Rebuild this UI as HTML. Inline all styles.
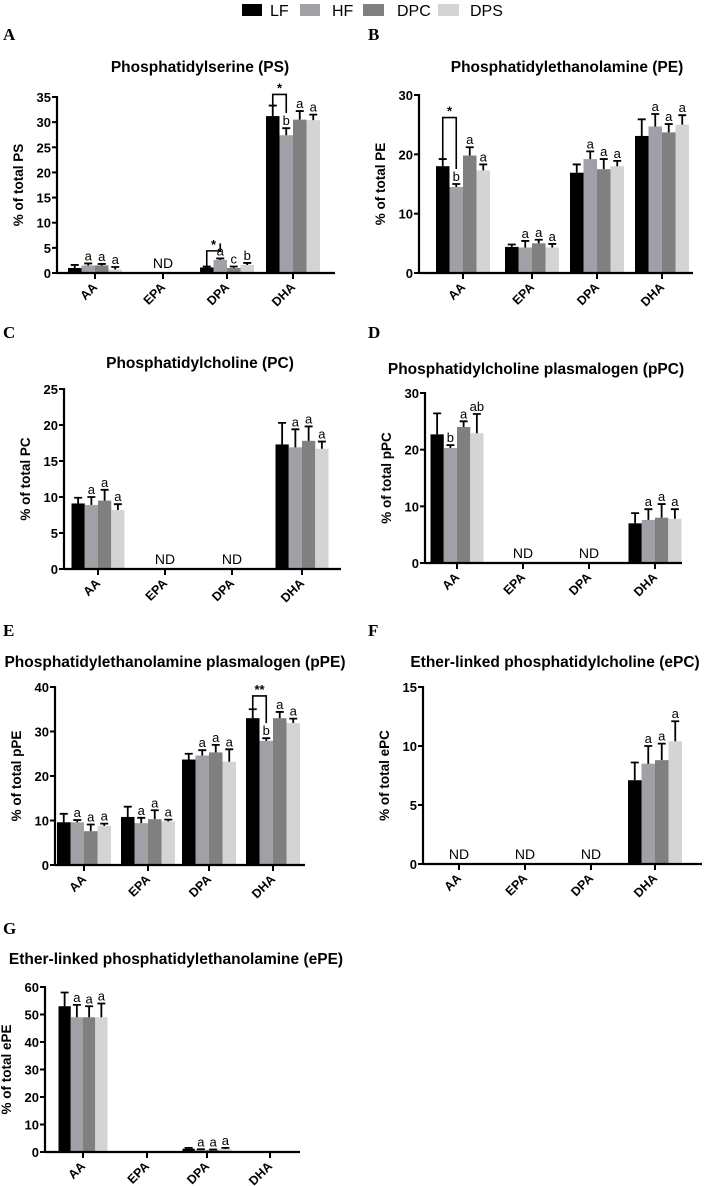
<!DOCTYPE html>
<html><head><meta charset="utf-8">
<style>
html,body{margin:0;padding:0;background:#fff;}
svg{display:block;font-family:"Liberation Sans",Arial,sans-serif;}
</style></head>
<body>
<svg id="fig" width="709" height="1186" viewBox="0 0 709 1186" xmlns="http://www.w3.org/2000/svg">
 <g font-size="16">
  <rect x="242" y="4" width="20" height="12" fill="#000"/>
  <text x="270" y="16">LF</text>
  <rect x="300" y="4" width="20" height="12" fill="#a0a0a6"/>
  <text x="332" y="16">HF</text>
  <rect x="363" y="4" width="21" height="12" fill="#808080"/>
  <text x="397" y="16">DPC</text>
  <rect x="438" y="4" width="21" height="12" fill="#d4d4d4"/>
  <text x="470" y="16">DPS</text>
 </g>
</svg>
<script>
// ---- data ----
const categories = ["AA","EPA","DPA","DHA"];
const seriesNames = ["LF","HF","DPC","DPS"];
const seriesColors = ["#000000","#a0a0a6","#808080","#d4d4d4"];

// Panel A (PS)
const psMeans = [[1.0,null,1.1,31.2],[1.5,null,2.6,27.4],[1.5,null,1.0,30.5],[0.7,null,1.6,30.4]];
const psErr   = [[1.6,null,1.3,33.3],[1.9,null,2.9,28.8],[1.8,null,1.3,32.2],[1.2,null,2.0,31.5]];
const psLetters = [["","","",""],["a","","a","b"],["a","","c","a"],["a","","b","a"]];
const psTicks = [0,5,10,15,20,25,30,35];
const psND = [false,true,false,false];
// Panel B (PE)
const peMeans = [[18.0,4.4,16.9,23.1],[14.5,4.3,19.2,24.7],[19.8,5.0,17.5,23.7],[17.3,4.3,18.0,25.0]];
const peErr   = [[19.2,4.8,18.3,25.9],[15.0,5.4,20.5,26.8],[21.2,5.6,19.2,25.1],[18.3,4.9,18.9,26.6]];
const peLetters = [["","","",""],["b","a","a","a"],["a","a","a","a"],["a","a","a","a"]];
const peTicks = [0,10,20,30];
const peND = [false,false,false,false];
// Panel C (PC)
const pcMeans = [[9.1,null,null,17.3],[8.9,null,null,16.9],[9.5,null,null,17.8],[8.2,null,null,16.7]];
const pcErr   = [[9.9,null,null,20.3],[10.0,null,null,19.4],[11.0,null,null,19.8],[9.0,null,null,17.7]];
const pcLetters = [["","","",""],["a","","","a"],["a","","","a"],["a","","","a"]];
const pcTicks = [0,5,10,15,20,25];
const pcND = [false,true,true,false];
// Panel D (pPC)
const ppcMeans = [[22.7,null,null,7.0],[20.3,null,null,7.6],[24.0,null,null,8.0],[22.9,null,null,7.8]];
const ppcErr   = [[26.4,null,null,8.8],[20.8,null,null,9.5],[25.0,null,null,10.4],[26.3,null,null,9.5]];
const ppcLetters = [["","","",""],["b","","","a"],["a","","","a"],["ab","","","a"]];
const ppcTicks = [0,10,20,30];
const ppcND = [false,true,true,false];
// Panel E (pPE)
const ppeMeans = [[9.6,10.8,23.7,33.0],[9.6,9.4,24.6,27.9],[7.6,10.3,25.3,33.0],[8.8,9.8,23.2,31.9]];
const ppeErr   = [[11.5,13.1,25.0,35.0],[10.1,10.6,25.8,28.5],[9.1,12.3,27.0,34.4],[9.3,10.2,26.0,32.9]];
const ppeLetters = [["","","",""],["a","a","a","b"],["a","a","a","a"],["a","a","a","a"]];
const ppeTicks = [0,10,20,30,40];
const ppeND = [false,false,false,false];
// Panel F (ePC)
const epcMeans = [[null,null,null,7.1],[null,null,null,8.5],[null,null,null,8.8],[null,null,null,10.4]];
const epcErr   = [[null,null,null,8.6],[null,null,null,10.0],[null,null,null,10.2],[null,null,null,12.1]];
const epcLetters = [["","","",""],["","","","a"],["","","","a"],["","","","a"]];
const epcTicks = [0,5,10,15];
const epcND = [true,true,true,false];
// Panel G (ePE)
const epeMeans = [[53,null,1.2,null],[49,null,0.8,null],[49,null,0.7,null],[49,null,1.1,null]];
const epeErr   = [[58,null,1.5,null],[53.5,null,1.0,null],[53,null,0.9,null],[54,null,1.5,null]];
const epeLetters = [["","","",""],["a","","a",""],["a","","a",""],["a","","a",""]];
const epeTicks = [0,10,20,30,40,50,60];
const epeND = [false,false,false,false];

const panels = [
 {id:"ps",letter:"A",lx:3,ly:40,title:"Phosphatidylserine (PS)",tx:200,ty:72,yl:"% of total PS",ax:57,x1:335,yTop:97,y0:273,cats:[95,163,227,293],gw:54,means:psMeans,err:psErr,letters:psLetters,ticks:psTicks,nd:psND,
  brackets:[{c:2,level:4.4,label:"*"},{c:3,level:35.5,label:"*"}]},
 {id:"pe",letter:"B",lx:368,ly:40,title:"Phosphatidylethanolamine (PE)",tx:567,ty:72,yl:"% of total PE",ax:419,x1:693,yTop:95,y0:273,cats:[463,532,597,662],gw:54,means:peMeans,err:peErr,letters:peLetters,ticks:peTicks,nd:peND,
  brackets:[{c:0,level:26.2,label:"*"}]},
 {id:"pc",letter:"C",lx:3,ly:338,title:"Phosphatidylcholine (PC)",tx:200,ty:368,yl:"% of total PC",ax:64,x1:341,yTop:389,y0:569,cats:[98,165,232,302],gw:53,means:pcMeans,err:pcErr,letters:pcLetters,ticks:pcTicks,nd:pcND,brackets:[]},
 {id:"ppc",letter:"D",lx:368,ly:338,title:"Phosphatidylcholine plasmalogen (pPC)",tx:536,ty:374,yl:"% of total pPC",ax:425,x1:682,yTop:393,y0:563,cats:[457,523,589,655],gw:53,means:ppcMeans,err:ppcErr,letters:ppcLetters,ticks:ppcTicks,nd:ppcND,brackets:[]},
 {id:"ppe",letter:"E",lx:3,ly:636,title:"Phosphatidylethanolamine plasmalogen (pPE)",tx:175,ty:667,yl:"% of total pPE",ax:55,x1:305,yTop:687,y0:865,cats:[84,148,209,273],gw:54,means:ppeMeans,err:ppeErr,letters:ppeLetters,ticks:ppeTicks,nd:ppeND,
  brackets:[{c:3,level:38,label:"**"}]},
 {id:"epc",letter:"F",lx:368,ly:636,title:"Ether-linked phosphatidylcholine (ePC)",tx:555,ty:667,yl:"% of total ePC",ax:423,x1:702,yTop:687,y0:864,cats:[459,525,591,655],gw:54,means:epcMeans,err:epcErr,letters:epcLetters,ticks:epcTicks,nd:epcND,brackets:[]},
 {id:"epe",letter:"G",lx:3,ly:934,title:"Ether-linked phosphatidylethanolamine (ePE)",tx:176,ty:964,yl:"% of total ePE",ax:45,x1:300,yTop:987,y0:1152,cats:[83,147,207,270],gw:49,means:epeMeans,err:epeErr,letters:epeLetters,ticks:epeTicks,nd:epeND,brackets:[]}
];

const NS="http://www.w3.org/2000/svg";
const svg=document.getElementById("fig");
function mk(tag,attrs,parent){const e=document.createElementNS(NS,tag);for(const k in attrs)e.setAttribute(k,attrs[k]);parent.appendChild(e);return e;}

panels.forEach(p=>{
 const g=mk("g",{},svg);
 
 
 const ymax=p.ticks[p.ticks.length-1];
 const yScale=v=>p.y0-(v/ymax)*(p.y0-p.yTop);
 const bw=p.gw/4;
 const xBar=(c,s)=>p.cats[c]-p.gw/2+s*bw;

 const L=mk("text",{x:p.lx,y:p.ly,"font-family":"Liberation Serif,serif","font-weight":"bold","font-size":"17"},g);L.textContent=p.letter;
 
 
 const T=mk("text",{x:p.tx,y:p.ty,"text-anchor":"middle","font-weight":"bold","font-size":"15.5"},g);T.textContent=p.title;
 
 
 const ym=(p.yTop+p.y0)/2;
 const YL=mk("text",{x:0,y:0,transform:`translate(${p.ax-34},${ym}) rotate(-90)`,"text-anchor":"middle","font-weight":"bold","font-size":"13.5"},g);YL.textContent=p.yl;
 
 

 for(let s=0;s<4;s++){
  for(let c=0;c<4;c++){
   const v=p.means[s][c]; if(v==null) continue;
   const x=xBar(c,s), y=yScale(v);
   const r=mk("rect",{x:x,y:y,width:bw,height:p.y0-y,fill:seriesColors[s]},g);
   
   
   const e=p.err[s][c];
   if(e!=null){
    const cx=x+bw/2, ey=yScale(e);
    const eb=mk("path",{d:`M${cx} ${y}V${ey}M${cx-4} ${ey}H${cx+4}`,stroke:"#000","stroke-width":"1.8",fill:"none"},g);
    
    
    const lt=p.letters[s][c];
    if(lt){
     const t=mk("text",{x:cx,y:ey-3,"text-anchor":"middle","font-size":"13"},g);t.textContent=lt;
     
     
    }
   }
  }
 }
 p.brackets.forEach(b=>{
  const xa=xBar(b.c,0)+bw/2, xb=xBar(b.c,1)+bw/2;
  const ya=yScale(p.err[0][b.c]), yb=yScale(p.err[1][b.c]), yl=yScale(b.level);
  const br=mk("path",{d:`M${xa} ${ya}V${yl}H${xb}V${yb-15}`,stroke:"#000","stroke-width":"1.6",fill:"none"},g);
  
  
  const st=mk("text",{x:(xa+xb)/2,y:yl-2,"text-anchor":"middle","font-weight":"bold","font-size":"13"},g);st.textContent=b.label;
  
  
 });
 p.nd.forEach((n,c)=>{ if(!n) return;
  const t=mk("text",{x:p.cats[c],y:p.y0-5,"text-anchor":"middle","font-size":"14"},g);t.textContent="ND";
  
  
 });
 const ya=mk("path",{d:`M${p.ax} ${p.yTop-1}V${p.y0+1}`,stroke:"#000","stroke-width":"2.2",fill:"none"},g);
 
 
 const xa=mk("path",{d:`M${p.ax} ${p.y0}H${p.x1}`,stroke:"#000","stroke-width":"2.2",fill:"none"},g);
 
 
 p.ticks.forEach(tv=>{
  const y=yScale(tv);
  const tk=mk("path",{d:`M${p.ax-5} ${y}H${p.ax}`,stroke:"#000","stroke-width":"2"},g);
  
  
  const t=mk("text",{x:p.ax-6,y:y+5,"text-anchor":"end","font-weight":"bold","font-size":"13"},g);t.textContent=tv;
  
  
 });
 categories.forEach((cn,c)=>{
  const x=p.cats[c];
  const tk=mk("path",{d:`M${x} ${p.y0}V${p.y0+6}`,stroke:"#000","stroke-width":"2"},g);
  
  
  const t=mk("text",{x:0,y:0,transform:`translate(${x+3},${p.y0+15}) rotate(-45)`,"text-anchor":"end","font-weight":"bold","font-size":"12.5"},g);t.textContent=cn;
  
  
 });
});
</script>
</body></html>
